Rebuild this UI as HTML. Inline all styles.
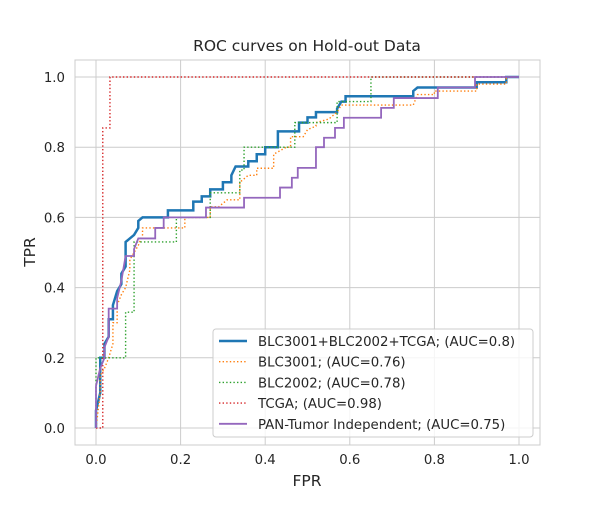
<!DOCTYPE html>
<html><head><meta charset="utf-8"><style>
body{margin:0;background:#fff;font-family:"Liberation Sans","DejaVu Sans",sans-serif}
svg text{font-family:"DejaVu Sans","Liberation Sans",sans-serif;fill:#262626}
</style></head><body>
<svg id="chart" width="600" height="500" viewBox="0 0 600 500" xmlns="http://www.w3.org/2000/svg">
<g id="grid"></g>
<rect x="75" y="60" width="465" height="385" fill="none" stroke="#cccccc" stroke-width="1"/>
<g id="series"></g>
<g id="ticks"></g>
<text x="307" y="51" text-anchor="middle" font-size="15.5">ROC curves on Hold-out Data</text>
<text x="307" y="486" text-anchor="middle" font-size="15.5">FPR</text>
<text x="35" y="252" text-anchor="middle" font-size="15.5" transform="rotate(-90 35 252)">TPR</text>
<g id="legend"></g>
</svg>
<script>
const xTicks=[0,0.2,0.4,0.6,0.8,1.0];
const yTicks=[0,0.2,0.4,0.6,0.8,1.0];
const seriesNames=["BLC3001+BLC2002+TCGA; (AUC=0.8)","BLC3001; (AUC=0.76)","BLC2002; (AUC=0.78)","TCGA; (AUC=0.98)","PAN-Tumor Independent; (AUC=0.75)"];
const blueFpr=[0,0,0.01,0.01,0.02,0.02,0.03,0.03,0.04,0.04,0.05,0.06,0.06,0.07,0.07,0.08,0.09,0.1,0.1,0.11,0.17,0.17,0.23,0.23,0.25,0.25,0.27,0.27,0.3,0.3,0.32,0.32,0.33,0.36,0.36,0.38,0.38,0.4,0.4,0.43,0.43,0.48,0.48,0.5,0.5,0.52,0.52,0.57,0.57,0.58,0.59,0.59,0.75,0.75,0.76,0.9,0.9,0.97,0.97,1];
const blueTpr=[0,0.05,0.1,0.2,0.2,0.24,0.26,0.31,0.31,0.35,0.39,0.41,0.44,0.46,0.53,0.54,0.55,0.57,0.59,0.6,0.6,0.62,0.62,0.645,0.645,0.66,0.66,0.68,0.68,0.7,0.7,0.72,0.745,0.745,0.76,0.76,0.78,0.78,0.8,0.8,0.845,0.845,0.87,0.87,0.885,0.885,0.9,0.9,0.91,0.93,0.93,0.945,0.945,0.96,0.97,0.97,0.985,0.985,1,1];
const orangeFpr=[0,0.01,0.01,0.02,0.03,0.04,0.04,0.05,0.05,0.06,0.07,0.08,0.08,0.1,0.11,0.11,0.21,0.21,0.27,0.27,0.29,0.31,0.34,0.34,0.36,0.38,0.38,0.42,0.42,0.45,0.46,0.46,0.49,0.5,0.52,0.52,0.55,0.57,0.58,0.75,0.76,0.8,0.8,0.9,0.9,0.97,0.97];
const orangeTpr=[0,0.1,0.15,0.17,0.2,0.24,0.3,0.3,0.35,0.38,0.4,0.45,0.48,0.52,0.55,0.57,0.57,0.6,0.6,0.63,0.63,0.65,0.65,0.7,0.72,0.72,0.74,0.74,0.78,0.8,0.8,0.83,0.83,0.85,0.86,0.87,0.88,0.9,0.92,0.92,0.95,0.95,0.96,0.96,0.98,0.98,1];
const greenFpr=[0,0,0.07,0.07,0.09,0.09,0.19,0.19,0.27,0.27,0.34,0.34,0.35,0.35,0.47,0.47,0.57,0.57,0.65,0.65,1];
const greenTpr=[0,0.2,0.2,0.33,0.33,0.53,0.53,0.6,0.6,0.67,0.67,0.735,0.735,0.8,0.8,0.87,0.87,0.93,0.93,1,1];
const redFpr=[0,0.016,0.016,0.033,0.033,1];
const redTpr=[0,0,0.855,0.855,1,1];
const purpleFpr=[0,0,0.01,0.02,0.02,0.03,0.03,0.05,0.05,0.06,0.07,0.09,0.09,0.1,0.14,0.14,0.16,0.16,0.26,0.26,0.35,0.35,0.435,0.435,0.463,0.463,0.477,0.477,0.52,0.52,0.539,0.539,0.565,0.565,0.586,0.586,0.674,0.674,0.704,0.704,0.808,0.808,0.896,0.896,1];
const purpleTpr=[0,0.12,0.17,0.2,0.23,0.26,0.34,0.34,0.37,0.42,0.49,0.49,0.51,0.54,0.54,0.57,0.57,0.6,0.6,0.628,0.628,0.656,0.656,0.685,0.685,0.713,0.713,0.741,0.741,0.8,0.8,0.827,0.827,0.855,0.855,0.884,0.884,0.912,0.912,0.94,0.94,0.97,0.97,1,1];
const NS="http://www.w3.org/2000/svg";
const X=f=>96+423*f, Y=t=>428-351*t;
function mk(tag,attrs,parent){const e=document.createElementNS(NS,tag);for(const k in attrs)e.setAttribute(k,attrs[k]);parent.appendChild(e);return e;}
const grid=document.getElementById('grid'),ticks=document.getElementById('ticks');
xTicks.forEach(v=>{
  const l=mk('line',{x1:X(v),x2:X(v),y1:60,y2:445,stroke:'#cccccc','stroke-width':1},grid);
  
  
  const t=mk('text',{x:X(v),y:464,'text-anchor':'middle','font-size':13.3},ticks);t.textContent=v.toFixed(1);
  
  
});
yTicks.forEach(v=>{
  const l=mk('line',{x1:75,x2:540,y1:Y(v),y2:Y(v),stroke:'#cccccc','stroke-width':1},grid);
  
  
  const t=mk('text',{x:65,y:Y(v)+5,'text-anchor':'end','font-size':13.3},ticks);t.textContent=v.toFixed(1);
  
  
});
const styles=[
 {fx:blueFpr,ty:blueTpr,c:'#1f77b4',w:2.5,d:'',n:'blc-combined-curve'},
 {fx:orangeFpr,ty:orangeTpr,c:'#ff7f0e',w:1.4,d:'1.4,2.2',n:'blc3001-curve'},
 {fx:greenFpr,ty:greenTpr,c:'#2ca02c',w:1.4,d:'1.4,2.2',n:'blc2002-curve'},
 {fx:redFpr,ty:redTpr,c:'#d62728',w:1.4,d:'1.4,2.2',n:'tcga-curve'},
 {fx:purpleFpr,ty:purpleTpr,c:'#9467bd',w:1.8,d:'',n:'pan-tumor-curve'}];
const sg=document.getElementById('series');
styles.forEach(s=>{
  const pts=s.fx.map((f,i)=>X(f)+','+Y(s.ty[i])).join(' ');
  const p=mk('polyline',{points:pts,fill:'none',stroke:s.c,'stroke-width':s.w,'stroke-dasharray':s.d},sg);
  
  
});
const lg=document.getElementById('legend');
const box=mk('rect',{x:213,y:329,width:320,height:108,rx:3,fill:'#fff','fill-opacity':0.8,stroke:'#cccccc'},lg);


styles.forEach((s,i)=>{
  const y=341+i*20.7;
  const l=mk('line',{x1:219,x2:247,y1:y,y2:y,stroke:s.c,'stroke-width':s.w,'stroke-dasharray':s.d},lg);
  
  
  const t=mk('text',{x:258,y:y+5,'font-size':13.3},lg);t.textContent=seriesNames[i];
  
  
});
</script>
</body></html>
